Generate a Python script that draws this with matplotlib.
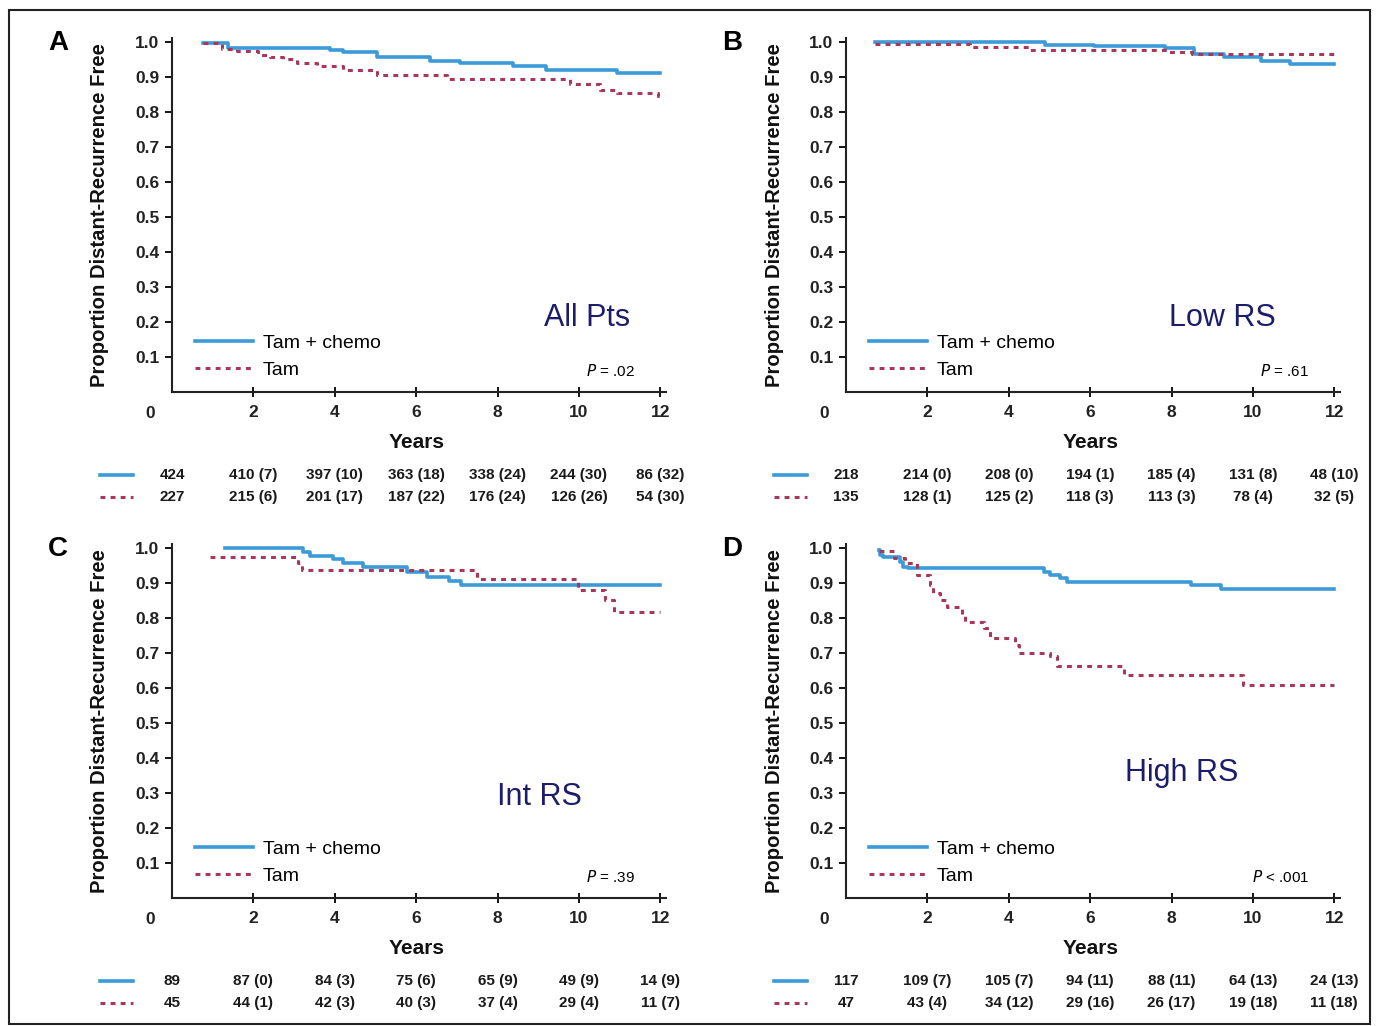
import matplotlib
matplotlib.use('Agg')
import matplotlib.pyplot as plt
import matplotlib.transforms as mtransforms
from matplotlib.patches import Rectangle

# survival step curves (years, proportion free)
a_chemo_t = [0.75, 1.38, 3.88, 4.21, 5.03, 6.34, 7.08, 8.38, 9.2, 10.93, 12.0]
a_chemo_s = [0.996, 0.984, 0.978, 0.970, 0.958, 0.947, 0.941, 0.931, 0.920, 0.911, 0.911]
a_tam_t = [0.75, 1.22, 1.59, 2.12, 2.41, 2.74, 3.06, 3.56, 4.21, 5.03, 6.75, 9.78, 10.52, 10.93, 11.95, 12.0]
a_tam_s = [0.998, 0.98, 0.975, 0.963, 0.958, 0.95, 0.941, 0.932, 0.92, 0.906, 0.893, 0.879, 0.864, 0.853, 0.845, 0.845]

b_chemo_t = [0.71, 4.9, 6.1, 7.85, 8.55, 9.3, 10.2, 10.9, 12.0]
b_chemo_s = [1.0, 0.991, 0.989, 0.982, 0.967, 0.956, 0.947, 0.937, 0.937]
b_tam_t = [0.71, 3.05, 4.5, 7.9, 8.5, 12.0]
b_tam_s = [0.994, 0.986, 0.977, 0.972, 0.966, 0.966]

c_chemo_t = [1.3, 3.22, 3.39, 3.96, 4.21, 4.7, 5.77, 6.27, 6.8, 7.1, 12.0]
c_chemo_s = [1.0, 0.989, 0.978, 0.969, 0.956, 0.946, 0.932, 0.918, 0.906, 0.893, 0.893]
c_tam_t = [0.93, 3.1, 3.2, 7.5, 9.98, 10.65, 10.85, 12.0]
c_tam_s = [0.975, 0.956, 0.937, 0.911, 0.88, 0.852, 0.816, 0.816]

d_chemo_t = [0.8, 0.84, 0.92, 1.33, 1.41, 1.53, 4.86, 5.02, 5.27, 5.44, 8.47, 9.21, 12.0]
d_chemo_s = [0.994, 0.98, 0.975, 0.961, 0.947, 0.942, 0.932, 0.922, 0.915, 0.902, 0.893, 0.883, 0.883]
d_tam_t = [0.8, 1.17, 1.45, 1.74, 2.07, 2.15, 2.32, 2.48, 2.85, 2.92, 3.38, 3.55, 4.16, 4.24, 5.02, 5.19, 6.83, 9.75, 12.0]
d_tam_s = [0.99, 0.97, 0.956, 0.923, 0.894, 0.870, 0.851, 0.830, 0.809, 0.788, 0.772, 0.742, 0.723, 0.701, 0.690, 0.662, 0.638, 0.609, 0.609]

# numbers at risk (events) at years 0..12
risk_years = [0, 2, 4, 6, 8, 10, 12]
a_risk_chemo = ['424', '410 (7)', '397 (10)', '363 (18)', '338 (24)', '244 (30)', '86 (32)']
a_risk_tam = ['227', '215 (6)', '201 (17)', '187 (22)', '176 (24)', '126 (26)', '54 (30)']
b_risk_chemo = ['218', '214 (0)', '208 (0)', '194 (1)', '185 (4)', '131 (8)', '48 (10)']
b_risk_tam = ['135', '128 (1)', '125 (2)', '118 (3)', '113 (3)', '78 (4)', '32 (5)']
c_risk_chemo = ['89', '87 (0)', '84 (3)', '75 (6)', '65 (9)', '49 (9)', '14 (9)']
c_risk_tam = ['45', '44 (1)', '42 (3)', '40 (3)', '37 (4)', '29 (4)', '11 (7)']
d_risk_chemo = ['117', '109 (7)', '105 (7)', '94 (11)', '88 (11)', '64 (13)', '24 (13)']
d_risk_tam = ['47', '43 (4)', '34 (12)', '29 (16)', '26 (17)', '19 (18)', '11 (18)']

letters = ['A', 'B', 'C', 'D']
groups = ['All Pts', 'Low RS', 'Int RS', 'High RS']
pvals = ['= .02', '= .61', '= .39', '< .001']
group_pos = [(10.2, 0.211), (9.26, 0.211), (9.02, 0.289), (8.25, 0.357)]

BLUE = '#3d9ad8'
RED = '#a8385a'
NAVY = '#1c1c6b'
SANS = ['Liberation Sans', 'DejaVu Sans']

W, H = 1379, 1026
fig = plt.figure(figsize=(W / 100, H / 100), dpi=100)
fig.patches.append(Rectangle((9 / W, 1 - 1024 / H), 1361 / W, 1014 / H,
                             transform=fig.transFigure, fill=False,
                             edgecolor='#222222', lw=1.5))

# axes: left px, bottom px (data y = 0)
boxes = [(172, 392), (846, 392), (172, 898), (846, 898)]
curves = [(a_chemo_t, a_chemo_s, a_tam_t, a_tam_s),
          (b_chemo_t, b_chemo_s, b_tam_t, b_tam_s),
          (c_chemo_t, c_chemo_s, c_tam_t, c_tam_s),
          (d_chemo_t, d_chemo_s, d_tam_t, d_tam_s)]
risks = [(a_risk_chemo, a_risk_tam), (b_risk_chemo, b_risk_tam),
         (c_risk_chemo, c_risk_tam), (d_risk_chemo, d_risk_tam)]

red_ls = (0, (1.6, 1.7))

for i in range(4):
    lx, by = boxes[i]
    ax = fig.add_axes([lx / W, (H - by) / H, 494 / W, 354 / H])
    ct, cs, tt, ts = curves[i]
    ax.step(ct, cs, where='post', color=BLUE, lw=2.6, label='Tam + chemo')
    ax.step(tt, ts, where='post', color=RED, lw=2.2, ls=red_ls, label='Tam')
    ax.set_xlim(0, 12.14)
    ax.set_ylim(0, 1.0114)
    ax.set_xticks([2, 4, 6, 8, 10, 12])
    ax.set_yticks([0.1, 0.2, 0.3, 0.4, 0.5, 0.6, 0.7, 0.8, 0.9, 1.0])
    ax.set_yticklabels(['%.1f' % v for v in ax.get_yticks()])
    for s in ['top', 'right']:
        ax.spines[s].set_visible(False)
    for s in ['left', 'bottom']:
        ax.spines[s].set_linewidth(1.5)
        ax.spines[s].set_color('#222222')
    ax.tick_params(axis='y', direction='out', length=5, width=1.3, pad=4)
    ax.tick_params(axis='x', direction='inout', length=7, width=1.3, pad=6)
    for lab in ax.get_xticklabels() + ax.get_yticklabels():
        lab.set_fontfamily(SANS)
        lab.set_fontsize(12.5)
        lab.set_fontweight('bold')
        lab.set_color('#222222')
    ax.set_facecolor('none')

    trans = mtransforms.blended_transform_factory(ax.transData, ax.transAxes)
    # origin label
    ax.text(-0.54, -21 / 354, '0', transform=trans, ha='center', va='center',
            fontsize=12.5, fontweight='bold', family=SANS, color='#222222')
    ax.text(6, -50 / 354, 'Years', transform=trans, ha='center', va='center',
            fontsize=15, fontweight='bold', family=SANS, color='#111111')
    ax.text(-72 / 494, (354 - 177) / 354, 'Proportion Distant-Recurrence Free',
            transform=ax.transAxes, rotation=90, ha='center', va='center',
            fontsize=14.6, fontweight='bold', family=SANS, color='#111111')
    ax.text(-114 / 494, (354 - 5) / 354, letters[i], transform=ax.transAxes,
            ha='center', va='center', fontsize=20, fontweight='bold', family=SANS)

    ax.legend(loc='upper left', bbox_to_anchor=(23 / 494, 0.162),
              frameon=False, handlelength=3.0,
              handletextpad=0.5, labelspacing=0.45, borderpad=0,
              borderaxespad=0, prop={'family': SANS, 'size': 14})
    ax.text(11.38, 0.06, r'$P$ ' + pvals[i], transform=ax.transData,
            ha='right', va='center', fontsize=11, family=SANS)
    gx, gy = group_pos[i]
    ax.text(gx, gy, groups[i], ha='center', va='center', fontsize=22,
            color=NAVY, family=SANS)

    # numbers at risk
    rc, rt = risks[i]
    y1 = -83 / 354
    y2 = -105 / 354
    ax.plot([-1.77, -0.96], [y1, y1], transform=trans, color=BLUE, lw=2.6,
            clip_on=False)
    ax.plot([-1.77, -0.96], [y2, y2], transform=trans, color=RED, lw=2.2,
            ls=red_ls, clip_on=False)
    for yr, t1, t2 in zip(risk_years, rc, rt):
        ax.text(yr, y1, t1, transform=trans, ha='center', va='center',
                fontsize=11, fontweight='bold', family=SANS, color='#1a1a1a')
        ax.text(yr, y2, t2, transform=trans, ha='center', va='center',
                fontsize=11, fontweight='bold', family=SANS, color='#1a1a1a')

fig.savefig('out.png', dpi=100)
